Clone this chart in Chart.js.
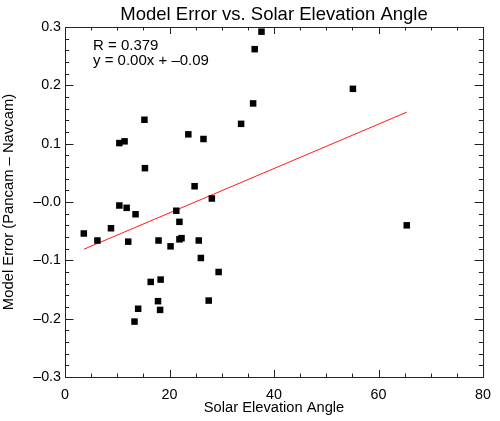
<!DOCTYPE html>
<html>
<head>
<meta charset="utf-8">
<script src="https://cdn.jsdelivr.net/npm/chart.js@4/dist/chart.umd.min.js"></script>
<style>
  body { margin: 0; background: #fff; }
  canvas { display: block; }
</style>
</head>
<body>
<canvas id="myChart" width="500" height="421"></canvas>
<script>
// data
const angle = [37.6, 36.3, 36.0, 33.7, 15.2, 23.6, 26.5, 10.4, 11.4, 15.3, 24.8, 28.1,
  3.6, 6.2, 8.8, 10.4, 11.8, 13.5, 12.1, 17.9, 20.2, 21.3, 21.9, 21.9, 22.3, 25.6,
  26.0, 29.4, 16.4, 18.3, 17.8, 18.2, 27.5, 14.0, 13.3, 55.1, 65.4]
const modelError = [0.292, 0.262, 0.169, 0.134, 0.141, 0.116, 0.108, 0.101, 0.104, 0.058, 0.027, 0.006,
  -0.054, -0.066, -0.045, -0.006, -0.010, -0.021, -0.068, -0.066, -0.076, -0.015, -0.034, -0.064, -0.062, -0.066,
  -0.096, -0.120, -0.137, -0.133, -0.170, -0.185, -0.169, -0.183, -0.205, 0.194, -0.040]
const fitX = [3.6, 65.4]
const fitY = [-0.081, 0.154]
const xTickLabels = ['0', '20', '40', '60', '80']
const yTickLabels = ['\u20130.3', '\u20130.2', '\u20130.1', '\u20130.0', '0.1', '0.2', '0.3']
const titleText = 'Model Error vs. Solar Elevation Angle'
const statLines = ['R = 0.379', 'y = 0.00x + \u20130.09']

const FONT = "'Liberation Sans', Arial, Helvetica, sans-serif"
var points = []
for (let i = 0; i < angle.length; i++) {
  points.push({ x: angle[i], y: modelError[i] })
}
var fit = []
for (let i = 0; i < fitX.length; i++) {
  fit.push({ x: fitX[i], y: fitY[i] })
}

// IDL style frame: box, inward ticks on all four sides, title, stats text
const idlFrame = {
  id: 'idlFrame',
  afterDraw(chart) {
    const ctx = chart.ctx
    const a = chart.chartArea
    const xs = chart.scales.x
    const ys = chart.scales.y
    ctx.save()
    ctx.strokeStyle = '#222'
    ctx.lineWidth = 1
    ctx.strokeRect(a.left + 0.5, a.top + 0.5, a.right - a.left, a.bottom - a.top)
    ctx.beginPath()
    for (let v = 0; v <= 80.001; v += 5) {
      let px = Math.round(xs.getPixelForValue(v)) + 0.5
      let len = (v % 20 == 0) ? 7 : 3.5
      ctx.moveTo(px, a.bottom); ctx.lineTo(px, a.bottom - len)
      ctx.moveTo(px, a.top); ctx.lineTo(px, a.top + len)
    }
    for (let k = -15; k <= 15; k++) {
      let py = Math.round(ys.getPixelForValue(k * 0.02)) + 0.5
      let len = (k % 5 == 0) ? 8.5 : 4.2
      ctx.moveTo(a.left, py); ctx.lineTo(a.left + len, py)
      ctx.moveTo(a.right, py); ctx.lineTo(a.right - len, py)
    }
    ctx.stroke()
    ctx.fillStyle = '#000'
    ctx.font = '18.5px ' + FONT
    ctx.textAlign = 'center'
    ctx.textBaseline = 'alphabetic'
    ctx.fillText(titleText, (a.left + a.right) / 2, 20)
    ctx.font = '15px ' + FONT
    ctx.textAlign = 'left'
    ctx.fillText(statLines[0], 93, 50)
    ctx.fillText(statLines[1], 93, 65)
    ctx.restore()
  }
}

const ctx = document.getElementById('myChart').getContext('2d')
const myChart = new Chart(ctx, {
  type: 'scatter',
  data: {
    datasets: [{
      label: 'points',
      data: points,
      pointStyle: 'rect',
      pointRadius: 4.6,
      backgroundColor: '#000',
      borderColor: '#000',
      borderWidth: 0
    }, {
      type: 'line',
      label: 'fit',
      data: fit,
      borderColor: '#ff1a1a',
      borderWidth: 1,
      pointRadius: 0,
      fill: false
    }]
  },
  options: {
    responsive: false,
    animation: false,
    layout: { padding: { top: 27, right: 11, left: 0, bottom: 0 } },
    plugins: {
      legend: { display: false },
      tooltip: { enabled: false }
    },
    scales: {
      x: {
        type: 'linear',
        min: 0,
        max: 80,
        afterFit: s => { s.height = 44 },
        grid: { display: false, drawTicks: false },
        border: { display: false },
        ticks: {
          stepSize: 20,
          padding: 9,
          color: '#000',
          font: { family: FONT, size: 14.3 },
          maxRotation: 0,
          callback: (v, i) => xTickLabels[i]
        },
        title: {
          display: true,
          text: 'Solar Elevation Angle',
          color: '#000',
          font: { family: FONT, size: 14.7 },
          padding: { top: 0, bottom: 4 }
        }
      },
      y: {
        type: 'linear',
        min: -0.3,
        max: 0.3,
        afterFit: s => { s.width = 65 },
        grid: { display: false, drawTicks: false },
        border: { display: false },
        ticks: {
          stepSize: 0.1,
          padding: 4,
          color: '#000',
          font: { family: FONT, size: 14.3 },
          callback: (v, i) => yTickLabels[i]
        },
        title: {
          display: true,
          text: 'Model Error (Pancam \u2013 Navcam)',
          color: '#000',
          font: { family: FONT, size: 14.8 },
          padding: { top: 0, bottom: 8 }
        }
      }
    }
  },
  plugins: [idlFrame]
})
</script>
</body>
</html>
